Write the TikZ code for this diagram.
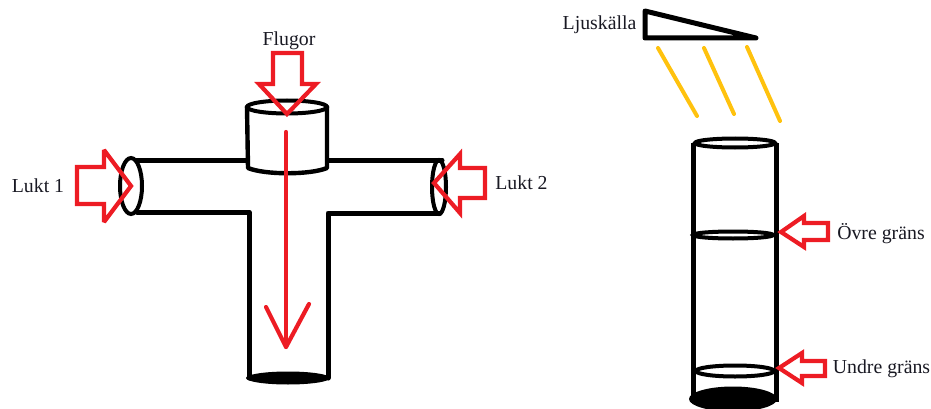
\documentclass[tikz,border=0pt]{standalone}
\usepackage{fontspec}
\setmainfont{Liberation Serif}
\definecolor{fred}{RGB}{237,28,36}
\definecolor{fray}{RGB}{255,194,14}
\definecolor{ftext}{RGB}{25,25,35}
\tikzset{
  tube/.style={draw=black,line width=5pt,line cap=round,line join=round},
  thinring/.style={draw=black,line width=4pt},
  redarrow/.style={draw=fred,line width=4.2pt,line join=miter,miter limit=3},
  redline/.style={draw=fred,line width=4.2pt,line cap=round,line join=round},
  ray/.style={draw=fray,line width=4pt,line cap=round},
  lbl/.style={font=\fontsize{19.8}{22}\selectfont,text=ftext,inner sep=0pt}
}
\begin{document}
\begin{tikzpicture}[x=1pt,y=-1pt]
\useasboundingbox (0,0) rectangle (931,409);
% --- T-maze ---
\draw[tube] (137,160) -- (249,160);
\draw[tube] (137,212) -- (249,212) -- (249,378);
\draw[tube] (327,160) -- (442,160);
\draw[tube] (440,213) -- (328,213) -- (328,378);
\draw[thinring] (131,186) ellipse [x radius=11,y radius=28];
\draw[thinring] (439,187) ellipse [x radius=7,y radius=27];
\fill[black] (288,378) ellipse [x radius=42,y radius=6.5];
% cup
\draw[tube,line width=4.4pt,fill=white] (247,107) -- (248,168) .. controls (265,175) and (310,175) .. (327,168) -- (327,107);
\draw[thinring,fill=white] (287,107) ellipse [x radius=40,y radius=6.5];
% red arrows
\draw[redarrow] (77,167) -- (104,167) -- (104,150) -- (131,186) -- (104,222) -- (104,204) -- (77,204) -- cycle;
\draw[redarrow] (273,53) -- (302,53) -- (302,84) -- (316,84) -- (287,114) -- (259,84) -- (273,84) -- cycle;
\draw[redarrow] (434,183) -- (460,154) -- (460,168) -- (485,168) -- (485,198) -- (460,198) -- (460,213) -- cycle;
\draw[redline] (286,132) -- (286,347);
\draw[redline] (266,307) -- (286,347) -- (309,304);
% --- lamp ---
\draw[tube] (645,11) -- (645,38) -- (756,38) -- cycle;
\draw[ray] (658,48) -- (697,116);
\draw[ray] (704,48) -- (734,114);
\draw[ray] (747,47) -- (780,121);
% --- right tube ---
\fill[black] (733,399) ellipse [x radius=44,y radius=12.5];
\draw[tube,line cap=butt] (693,143) -- (693,402);
\draw[tube,line cap=butt] (776,143) -- (776,402);
\draw[thinring] (735,143) ellipse [x radius=40,y radius=4.5];
\draw[thinring] (733,235) ellipse [x radius=40,y radius=3.5];
\draw[thinring] (735,371) ellipse [x radius=39,y radius=5.5];
\draw[redarrow] (781,232) -- (804,216) -- (804,223) -- (828,223) -- (828,240) -- (804,240) -- (804,247) -- cycle;
\draw[redarrow] (779,368) -- (802,353) -- (802,361) -- (825,361) -- (825,376) -- (802,376) -- (802,383) -- cycle;
% --- labels ---
\node[lbl] (lukta) at (38,186) {Lukt 1};
\node[lbl] (luktb) at (521.5,183) {Lukt 2};
\node[lbl] (flugor) at (289,41) {Flugor};
\node[lbl] (ljus) at (599.5,25) {Ljuskälla};
\node[lbl] (ovre) at (881,234) {Övre gräns};
\node[lbl] (undre) at (881.5,369) {Undre gräns};
\end{tikzpicture}
\end{document}
